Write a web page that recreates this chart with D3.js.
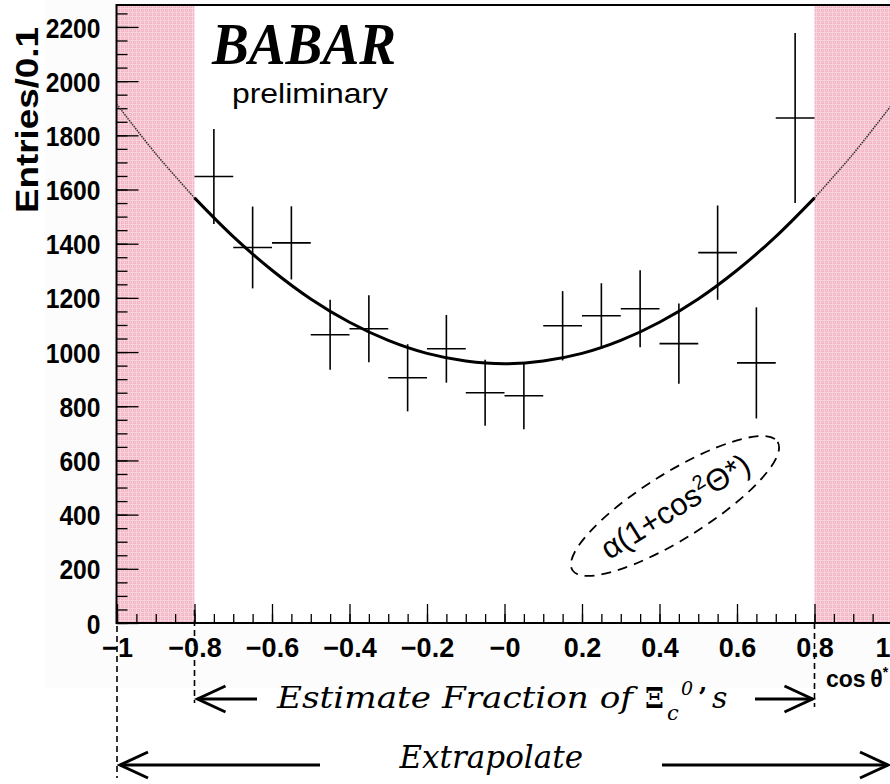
<!DOCTYPE html>
<html><head><meta charset="utf-8">
<script src="https://cdn.jsdelivr.net/npm/d3@7/dist/d3.min.js"></script>
<style>body{margin:0;background:#fff}svg{display:block}</style>
</head><body>
<svg id="c" width="890" height="784"></svg>
<script>
// ---- data ----
const binCenters = [-0.75,-0.65,-0.55,-0.45,-0.35,-0.25,-0.15,-0.05,0.05,0.15,0.25,0.35,0.45,0.55,0.65,0.75];
const entries = [1648,1386,1403,1064,1086,905,1012,850,839,1097,1134,1160,1031,1367,960,1864];
const entryErrors = [175,151,135,129,124,124,125,122,124,128,120,142,148,174,205,314];
const binHalfWidth = 0.05;
const fitX = [-1,-0.9,-0.8,-0.7,-0.6,-0.5,-0.4,-0.3,-0.2,-0.1,0,0.1,0.2,0.3,0.4,0.5,0.6,0.7,0.8,0.9,1];
const fitY = [1914,1732,1569,1426,1302,1196,1110,1043,995,967,957,967,995,1043,1110,1196,1302,1426,1569,1732,1914];
const yTickValues = [0,200,400,600,800,1000,1200,1400,1600,1800,2000,2200];
const xTickValues = [-1,-0.8,-0.6,-0.4,-0.2,0,0.2,0.4,0.6,0.8,1];
const xTickLabels = ["\u22121","\u22120.8","\u22120.6","\u22120.4","\u22120.2","\u22120","0.2","0.4","0.6","0.8","1"];
const estimateRange = [-0.8, 0.8];

const svg = d3.select("#c");
const x = d3.scaleLinear([-1, 1], [117, 892]);
const y = d3.scaleLinear([0, 2281], [623, 5]);

// defs: pink hatch pattern
const defs = svg.append("defs");
const pat = defs.append("pattern").attr("id","pink").attr("patternUnits","userSpaceOnUse")
  .attr("width",4).attr("height",4);
pat.append("rect").attr("width",4).attr("height",4).attr("fill","#f3b6c5");
pat.append("rect").attr("width",4).attr("height",1).attr("fill","#f8d2dc");
pat.append("rect").attr("width",1).attr("height",4).attr("fill","#f8d2dc");
pat.append("rect").attr("x",2).attr("y",2).attr("width",1).attr("height",1).attr("fill","#fadde4");

// faint canvas background
svg.append("rect").attr("x",45).attr("y",0).attr("width",845).attr("height",688).attr("fill","#fcfcfc");
svg.append("rect").attr("x",x(-1)).attr("y",y(2281)).attr("width",x(1)-x(-1)).attr("height",y(0)-y(2281)).attr("fill","#fff");

// pink regions
svg.append("rect").attr("x",x(-1)).attr("y",y(2281)).attr("width",x(estimateRange[0])-x(-1))
  .attr("height",y(0)-y(2281)).attr("fill","url(#pink)");
svg.append("rect").attr("x",x(estimateRange[1])).attr("y",y(2281)).attr("width",x(1)-x(estimateRange[1]))
  .attr("height",y(0)-y(2281)).attr("fill","url(#pink)");

// y axis minor + major
const yMinor = d3.axisLeft(y).tickValues(d3.range(0, 2281, 50)).tickSize(-11).tickFormat("");
svg.append("g").attr("transform",`translate(${x(-1)-0.5},0)`).call(yMinor)
  .call(g=>g.select(".domain").remove()).selectAll("line").attr("stroke","#000").attr("stroke-width",1.3);
const yAxis = d3.axisLeft(y).tickValues(yTickValues).tickSize(-22).tickPadding(16).tickFormat(d3.format("d"));
const gy = svg.append("g").attr("transform",`translate(${x(-1)-0.5},0)`).call(yAxis);
gy.select(".domain").remove();
gy.selectAll("line").attr("stroke","#000").attr("stroke-width",1.3);
gy.selectAll("text").attr("font-family","Liberation Sans, Arial, sans-serif").attr("font-weight","bold")
  .attr("font-size",28).attr("fill","#000").attr("x",-16/0.88).attr("dy","0.36em")
  .attr("transform","scale(0.88,1)");

// x axis minor + major
const xMinor = d3.axisBottom(x).tickValues(d3.range(-20, 21).map(i=>i*0.05)).tickSize(-9).tickFormat("");
svg.append("g").attr("transform",`translate(0,${y(0)})`).call(xMinor)
  .call(g=>g.select(".domain").remove()).selectAll("line").attr("stroke","#000").attr("stroke-width",1.3);
const xAxis = d3.axisBottom(x).tickValues(xTickValues).tickSize(-19).tickPadding(15)
  .tickFormat((d,i)=>xTickLabels[i]);
const gx = svg.append("g").attr("transform",`translate(0,${y(0)})`).call(xAxis);
gx.select(".domain").remove();
gx.selectAll("line").attr("stroke","#000").attr("stroke-width",1.3);
gx.selectAll("text").attr("font-family","Liberation Sans, Arial, sans-serif").attr("font-weight","bold")
  .attr("font-size",27).attr("fill","#000");
// keep the last label inside the picture
gx.selectAll(".tick").filter(d=>d===1).select("text").attr("text-anchor","end").attr("x",890-x(1));

// frame
svg.append("path").attr("d",`M${x(1)},${y(2281)}H${x(-1)-0.5}V${y(0)}H${x(1)}`)
  .attr("fill","none").attr("stroke","#000").attr("stroke-width",2);

// fit curve
const idx = fitX.map((v,i)=>i);
const inside = idx.filter(i=>fitX[i]>=estimateRange[0]-1e-9 && fitX[i]<=estimateRange[1]+1e-9);
const leftOut = idx.filter(i=>fitX[i]<=estimateRange[0]+1e-9);
const rightOut = idx.filter(i=>fitX[i]>=estimateRange[1]-1e-9);
const seg = ids => d3.line().x(i=>x(fitX[i])).y(i=>y(fitY[i])).curve(d3.curveCatmullRom)(ids);
[leftOut, rightOut].forEach(ids=>{
  svg.append("path").attr("d",seg(ids)).attr("fill","none").attr("stroke","#333")
    .attr("stroke-width",1.5).attr("stroke-dasharray","1.5,1");
});
svg.append("path").attr("d",seg(inside)).attr("fill","none").attr("stroke","#000").attr("stroke-width",3);

// data points with error bars
const pts = svg.append("g").attr("stroke","#000").attr("stroke-width",1.6);
binCenters.forEach((c,i)=>{
  pts.append("line").attr("x1",x(c-binHalfWidth)).attr("x2",x(c+binHalfWidth)).attr("y1",y(entries[i])).attr("y2",y(entries[i]));
  pts.append("line").attr("x1",x(c)).attr("x2",x(c)).attr("y1",y(entries[i]-entryErrors[i])).attr("y2",y(entries[i]+entryErrors[i]));
});

// axis titles
svg.append("text").attr("transform","translate(38,213) rotate(-90)")
  .attr("font-family","Liberation Sans, Arial, sans-serif").attr("font-weight","bold").attr("font-size",31)
  .attr("textLength",186).attr("lengthAdjust","spacingAndGlyphs").text("Entries/0.1");
const ct = svg.append("text").attr("x",826).attr("y",687)
  .attr("font-family","Liberation Sans, Arial, sans-serif").attr("font-weight","bold").attr("font-size",23);
ct.append("tspan").text("cos\u2009\u03B8");
ct.append("tspan").attr("dy",-10).attr("font-size",14).text("*");

// logo
svg.append("text").attr("x",212).attr("y",64)
  .attr("font-family","Liberation Serif, Times New Roman, serif").attr("font-weight","bold").attr("font-style","italic")
  .attr("font-size",60).attr("textLength",184).attr("lengthAdjust","spacingAndGlyphs").text("BABAR");
svg.append("text").attr("x",232).attr("y",103)
  .attr("font-family","Liberation Sans, Arial, sans-serif").attr("font-size",28)
  .attr("textLength",156).attr("lengthAdjust","spacingAndGlyphs").text("preliminary");

// ellipse annotation
const ann = svg.append("g").attr("transform","translate(675,506) rotate(-32)");
ann.append("ellipse").attr("rx",121).attr("ry",33).attr("fill","none").attr("stroke","#000")
  .attr("stroke-width",1.8).attr("stroke-dasharray","10,7");
const at = ann.append("text").attr("x",0).attr("y",11).attr("text-anchor","middle")
  .attr("font-family","Liberation Sans, Arial, sans-serif").attr("font-size",31);
at.append("tspan").text("\u03B1(1+cos");
at.append("tspan").attr("dy",-12).attr("font-size",20).text("2");
at.append("tspan").attr("dy",12).text("\u0398*)");

// dashed guide lines
const dash = svg.append("g").attr("stroke","#000").attr("stroke-width",1.6).attr("stroke-dasharray","6,4");
dash.append("line").attr("x1",x(-1)).attr("x2",x(-1)).attr("y1",626).attr("y2",778);
dash.append("line").attr("x1",x(estimateRange[0])).attr("x2",x(estimateRange[0])).attr("y1",610).attr("y2",703);
dash.append("line").attr("x1",x(estimateRange[1])).attr("x2",x(estimateRange[1])).attr("y1",623).attr("y2",707);

// arrows
const arr = svg.append("g").attr("stroke","#000").attr("stroke-width",3).attr("fill","none");
function arrow(x1, x2, yy, dir){ // dir = -1 tip at x1 (left), +1 tip at x2 (right)
  arr.append("line").attr("x1",x1).attr("x2",x2).attr("y1",yy).attr("y2",yy);
  const tip = dir<0 ? x1 : x2;
  const back = tip - dir*28;
  arr.append("path").attr("d",`M${back},${yy-13}L${tip},${yy}L${back},${yy+13}`);
}
arrow(x(estimateRange[0])+3, 257, 699, -1);
arrow(755, x(estimateRange[1])-2, 699, 1);
arrow(x(-1)+3, 320, 765, -1);
arrow(662, 888, 765, 1);

// annotation texts
const serif = "DejaVu Serif, serif";
svg.append("text").attr("x",277).attr("y",708).attr("font-family",serif).attr("font-style","italic")
  .attr("font-size",30).attr("textLength",356).attr("lengthAdjust","spacingAndGlyphs").text("Estimate Fraction of");
svg.append("text").attr("x",645).attr("y",708).attr("font-family",serif).attr("font-weight","bold")
  .attr("font-size",28).attr("textLength",19).attr("lengthAdjust","spacingAndGlyphs").text("\u039E");
svg.append("text").attr("x",667).attr("y",720).attr("font-family",serif).attr("font-style","italic")
  .attr("font-size",21).text("c");
svg.append("text").attr("x",681).attr("y",695).attr("font-family",serif).attr("font-style","italic")
  .attr("font-size",19).text("0");
svg.append("text").attr("x",698).attr("y",706).attr("font-family",serif).attr("font-weight","bold")
  .attr("font-size",26).text("\u2019");
svg.append("text").attr("x",712).attr("y",708).attr("font-family",serif).attr("font-style","italic")
  .attr("font-size",30).text("s");
svg.append("text").attr("x",583).attr("y",768).attr("text-anchor","end").attr("font-family",serif).attr("font-style","italic")
  .attr("font-size",31).text("Extrapolate");
</script>
</body></html>
